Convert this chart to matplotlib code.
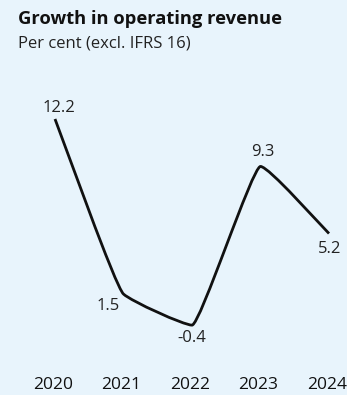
import matplotlib
matplotlib.use("Agg")
import matplotlib.pyplot as plt
from matplotlib.path import Path
from matplotlib.patches import PathPatch
import numpy as np

years = [2020, 2021, 2022, 2023, 2024]
growth = [12.2, 1.5, -0.4, 9.3, 5.2]
labels = ["12.2", "1.5", "-0.4", "9.3", "5.2"]
title = "Growth in operating revenue"
subtitle = "Per cent (excl. IFRS 16)"

BG = "#e8f4fc"
FONT = "Open Sans"

W, H = 347, 395
fig = plt.figure(figsize=(W / 100, H / 100), dpi=100, facecolor=BG)
ax = fig.add_axes([0, 0, 1, 1])
ax.set_facecolor(BG)
ax.axis("off")

# pixel mapping: 2020 -> x=55, step 68.5 px; 12.2 -> y=119, 16.36 px/unit
xs_px, step = 55, 68.5
ax.set_xlim(2020 - xs_px / step, 2020 + (W - xs_px) / step)
yu = 16.36
ax.set_ylim(12.2 - (H - 119) / yu, 12.2 + 119 / yu)

# lightly rounded path: straight segments with short bezier handles near joints
x = np.array(years, dtype=float)
y = np.array(growth, dtype=float)
n = len(x)
h = np.diff(x)
s = np.diff(y) / h
t = np.zeros(n)
for i in range(1, n - 1):
    if s[i - 1] * s[i] <= 0:
        t[i] = 0.0
    else:
        p = (s[i - 1] * h[i] + s[i] * h[i - 1]) / (h[i - 1] + h[i])
        t[i] = (np.sign(s[i - 1]) + np.sign(s[i])) * min(abs(s[i - 1]), abs(s[i]), 0.5 * abs(p))
t[0] = s[0]
t[-1] = s[-1]
k = 0.12
verts = [(x[0], y[0])]
codes = [Path.MOVETO]
for i in range(n - 1):
    dx = h[i] * k
    verts += [(x[i] + dx, y[i] + t[i] * dx), (x[i + 1] - dx, y[i + 1] - t[i + 1] * dx), (x[i + 1], y[i + 1])]
    codes += [Path.CURVE4] * 3
ax.add_patch(PathPatch(Path(verts, codes), fill=False, edgecolor="#111111", lw=2.0,
                       capstyle="butt", joinstyle="round"))

# data labels: offsets in pixels (dx, dy) from point to label center
offs = [(4, 11), (-15, -12), (0, -13), (2, 14), (1, -15)]
for xi, yi, lab, (dx, dy) in zip(years, growth, labels, offs):
    ax.annotate(lab, (xi, yi), xytext=(dx * 0.72, dy * 0.72), textcoords="offset points",
                ha="center", va="center", fontsize=12, family=FONT, color="#222222")

# x labels
for xi in years:
    ax.annotate(str(xi), (xi, 0), xycoords=("data", "axes fraction"),
                xytext=(-2 * 0.72, (H - 385) * 0.72), textcoords="offset points",
                ha="center", va="center", fontsize=12.5, family=FONT, color="#111111")

fig.text(18 / W, 1 - 19 / H, title, ha="left", va="center", fontsize=13.2,
         fontweight="bold", family=FONT, color="#111111")
fig.text(18 / W, 1 - 43 / H, subtitle, ha="left", va="center", fontsize=12,
         family=FONT, color="#222222")

fig.savefig("out.png", dpi=100, facecolor=BG)
